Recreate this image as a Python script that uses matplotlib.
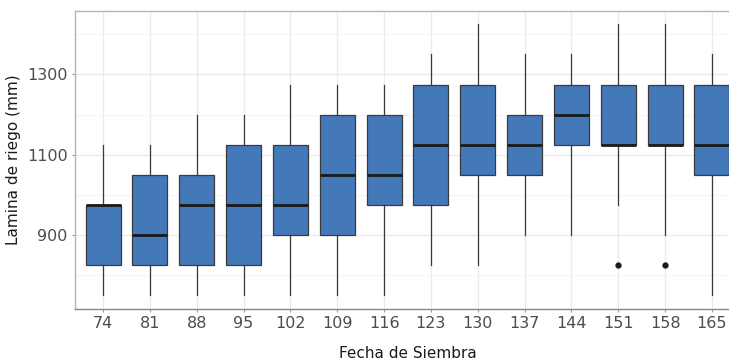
import matplotlib.pyplot as plt
import numpy as np

# Fecha de siembra (dias) y resumen de cada caja
fechas = [74, 81, 88, 95, 102, 109, 116, 123, 130, 137, 144, 151, 158, 165]
whis_lo = [750, 750, 750, 750, 750, 750, 750, 825, 825, 900, 900, 975, 900, 750]
q1 = [825, 825, 825, 825, 900, 900, 975, 975, 1050, 1050, 1125, 1125, 1125, 1050]
mediana = [975, 900, 975, 975, 975, 1050, 1050, 1125, 1125, 1125, 1200, 1125, 1125, 1125]
q3 = [975, 1050, 1050, 1125, 1125, 1200, 1200, 1275, 1275, 1200, 1275, 1275, 1275, 1275]
whis_hi = [1125, 1125, 1200, 1200, 1275, 1275, 1275, 1350, 1425, 1350, 1350, 1425, 1425, 1350]
atipicos = [[], [], [], [], [], [], [], [], [], [], [], [825], [825], []]

stats = []
for i, f in enumerate(fechas):
    stats.append(dict(label=str(f), whislo=whis_lo[i], q1=q1[i], med=mediana[i],
                      q3=q3[i], whishi=whis_hi[i], fliers=atipicos[i]))

fig = plt.figure(figsize=(7.29, 3.62), dpi=100)
ax = fig.add_axes([75 / 729, 1 - 309 / 362, 665 / 729, (309 - 10.7) / 362])

pos = np.arange(1, len(fechas) + 1)
ax.bxp(stats, positions=pos, widths=0.75, patch_artist=True, showcaps=False,
       boxprops=dict(facecolor='#4479b9', edgecolor='#3a3a3a', linewidth=0.9),
       medianprops=dict(color='#1a1a1a', linewidth=2.0, solid_capstyle='butt'),
       whiskerprops=dict(color='#3a3a3a', linewidth=0.9),
       flierprops=dict(marker='o', markersize=3.5, markerfacecolor='#1a1a1a',
                       markeredgecolor='#1a1a1a'),
       zorder=3)

ax.set_xlim(0.4, len(fechas) + 0.6)
ax.set_ylim(716.25, 1458.75)
ax.set_yticks([900, 1100, 1300])
ax.set_yticks([800, 1000, 1200, 1400], minor=True)
ax.set_xticks(pos)
ax.set_xticklabels([str(f) for f in fechas])

ax.grid(True, which='major', color='#ebebeb', linewidth=1.0, zorder=0)
ax.grid(True, which='minor', axis='y', color='#f4f4f4', linewidth=0.8, zorder=0)
ax.set_axisbelow(True)

for s in ax.spines.values():
    s.set_color('#b3b3b3')
    s.set_linewidth(1.0)
ax.spines['bottom'].set_color('#888888')

ax.tick_params(axis='both', which='major', length=2.2, color='#999999',
               labelsize=11.5, labelcolor='#4d4d4d', pad=3)
ax.tick_params(axis='y', which='minor', length=0)

ax.set_xlabel('Fecha de Siembra', fontsize=11, color='#1a1a1a', labelpad=11)
ax.set_ylabel('Lamina de riego (mm)', fontsize=11, color='#1a1a1a', labelpad=4.5)

fig.savefig('out.png', dpi=100)
